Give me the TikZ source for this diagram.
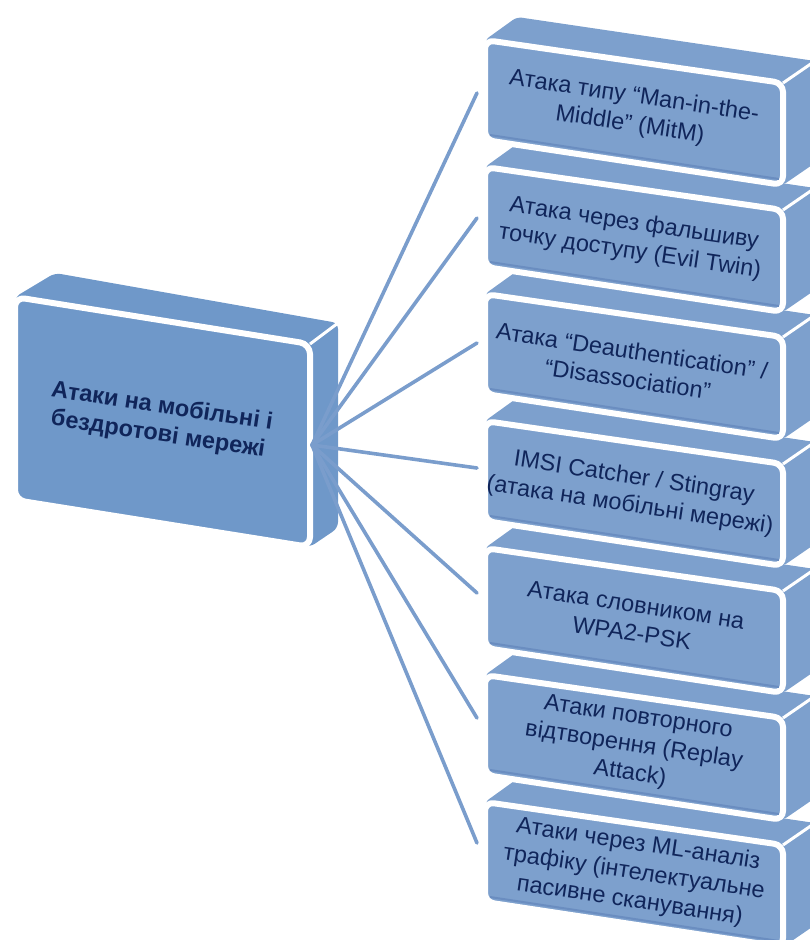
\documentclass[tikz,border=0pt]{standalone}
\usepackage{fontspec}
\setmainfont{Liberation Sans}
\usepackage{xcolor}
\usepackage{tikz}
\usetikzlibrary{positioning,calc}
\definecolor{hubblu}{HTML}{6F98C9}
\definecolor{subblu}{HTML}{7DA0CD}
\definecolor{linkblu}{HTML}{7A9DCC}
\definecolor{shadeblu}{HTML}{6A8DC0}
\definecolor{inkblu}{HTML}{10255A}

\begin{document}
\begin{tikzpicture}[x=1pt,y=-1pt,
    link/.style={linkblu,line width=3.6,line cap=round},
    subtxt/.style={inkblu,align=center,rotate=-8.5,font=\fontsize{23.5}{28.5}\selectfont},
    hubtxt/.style={inkblu,align=center,rotate=-8.5,font=\bfseries\fontsize{23.5}{28}\selectfont}]
  \useasboundingbox (0,0) rectangle (810,940);
  \clip (0,0) rectangle (810,940);
  % main block
  \fill[hubblu,rounded corners=6] (15,297) -- (55,273) -- (338,323) -- (338,528) -- (310,547) -- (15,500) -- cycle;
  \draw[white,line width=3] (310,344) -- (338,323);
  \filldraw[hubblu,draw=white,line width=6,rounded corners=10] (15,297) -- (310,344) -- (310,547) -- (15,500) -- cycle;
  \node[hubtxt] (root) at (160,421) {Атаки на мобільні і\\бездротові мережі};
  % connectors
  \coordinate (hub) at (312,445);
  \foreach \i in {0,...,6}{\coordinate (e\i) at (477,93+125*\i);}
  \foreach \i in {0,...,6}{\draw[link] (hub) -- (e\i);}
  % stacked blocks, bottom one first
  \foreach \i in {6,5,...,0}{
    \pgfmathsetmacro{\yt}{40+127*\i}
    \fill[subblu,rounded corners=5] (485,\yt) -- (517,\yt-23) -- (815,\yt+21) -- (815,\yt+123) -- (783,\yt+145) -- (485,\yt+100) -- cycle;
    \draw[white,line width=3] (783,\yt+43) -- (815,\yt+21);
    \filldraw[subblu,draw=white,line width=6,rounded corners=9] (485,\yt) -- (783,\yt+43) -- (783,\yt+145) -- (485,\yt+100) -- cycle;
    \draw[shadeblu,line width=2] (490,\yt+95) -- (779,\yt+139);
  }
  \node[subtxt] (a0) at (632,111) {Атака типу “Man-in-the-\\Middle” (MitM)};
  \node[subtxt] (a1) at (632,238) {Атака через фальшиву\\точку доступу (Evil Twin)};
  \node[subtxt] (a2) at (630,365) {Атака “Deauthentication” /\\“Disassociation”};
  \node[subtxt] (a3) at (632,492) {IMSI Catcher / Stingray\\(атака на мобільні мережі)};
  \node[subtxt] (a4) at (634,619) {Атака словником на\\WPA2-PSK};
  \node[subtxt] (a5) at (634,746) {Атаки повторного\\відтворення (Replay\\Attack)};
  \node[subtxt] (a6) at (634,873) {Атаки через ML-аналіз\\трафіку (інтелектуальне\\пасивне сканування)};
\end{tikzpicture}
\end{document}
